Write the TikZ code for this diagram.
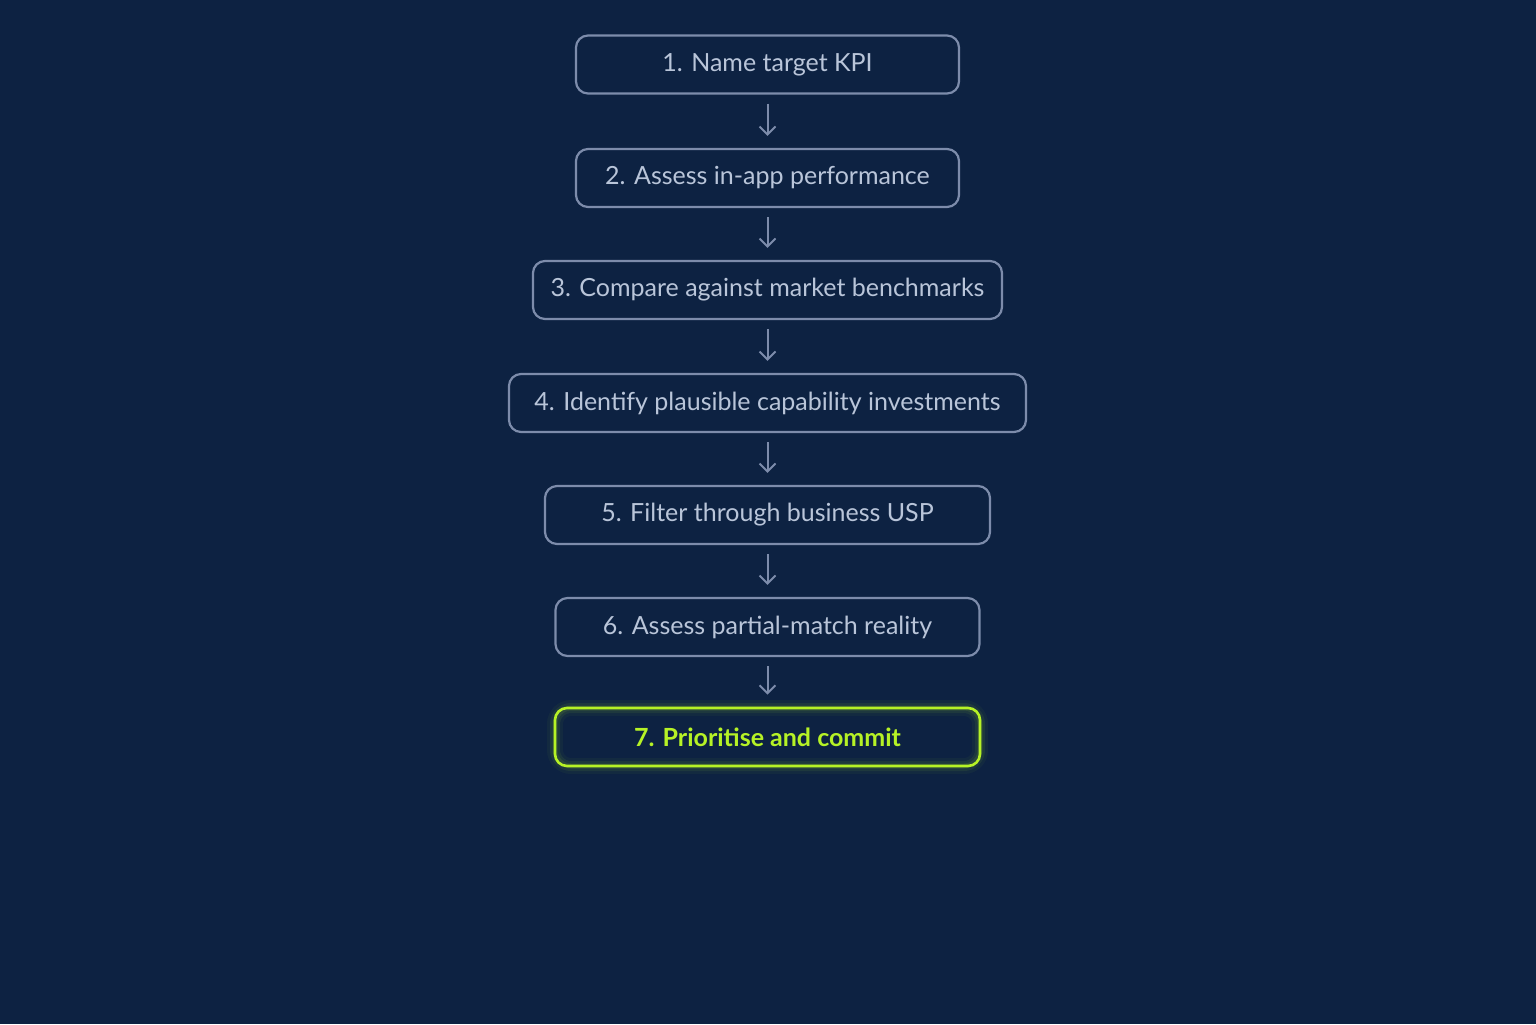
\documentclass[tikz,border=0pt]{standalone}
\usepackage{fontspec}
\setmainfont{Lato}
\usetikzlibrary{arrows.meta}
\definecolor{bg}{HTML}{0D2242}
\definecolor{edge}{HTML}{7D8CAB}
\definecolor{txt}{HTML}{B9C5D9}
\definecolor{lime}{HTML}{B6F226}
\begin{document}
\begin{tikzpicture}[x=0.5pt,y=-0.5pt,
  box/.style={draw=edge,line width=1.1pt,rounded corners=6pt,minimum height=29pt,text=txt,font=\fontsize{12.5}{14}\selectfont,inner sep=0pt},
  final/.style={box,draw=lime,text=lime,font=\fontsize{12.5}{14}\selectfont\bfseries,line width=1.3pt},
  arr/.style={draw=edge,line width=1pt,-{Straight Barb[length=4pt,width=8pt]},shorten <=4.5pt,shorten >=6pt}]
\fill[bg] (0,0) rectangle (1536,1024);
\useasboundingbox (0,0) rectangle (1536,1024);
\node[box,minimum width=191.5pt] (s1) at (767.5,64.5) {1. Name target KPI};
\node[box,minimum width=191.5pt] (s2) at (767.5,178) {2. Assess in-app performance};
\node[box,minimum width=234.5pt] (s3) at (767.5,290) {3. Compare against market benchmarks};
\node[box,minimum width=258.5pt] (s4) at (767.5,403) {4. Identify plausible capability investments};
\node[box,minimum width=222.5pt] (s5) at (767.5,515) {5. Filter through business USP};
\node[box,minimum width=212pt] (s6) at (767.5,627) {6. Assess partial-match reality};
\foreach \r/\o in {8/0.04,5/0.07,2.5/0.1}{
  \draw[lime,opacity=\o,line width=\r pt,rounded corners=8pt] (555,708) rectangle (980,766);}
\node[final,minimum width=212.5pt] (s7) at (767.5,737) {7. Prioritise and commit};
\foreach \a/\b in {s1/s2,s2/s3,s3/s4,s4/s5,s5/s6,s6/s7}
  \draw[arr] (\a.south) -- (\b.north);
\end{tikzpicture}
\end{document}
